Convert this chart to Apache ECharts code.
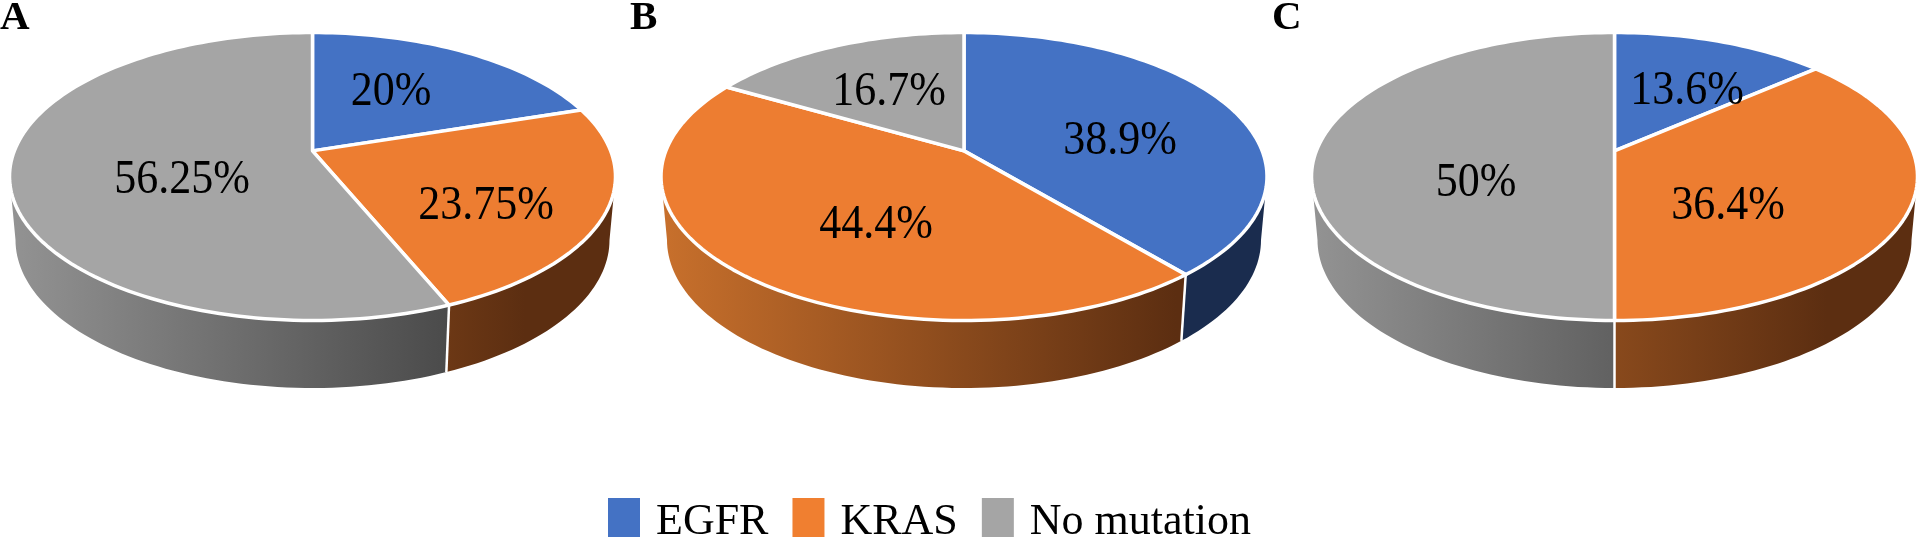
<!DOCTYPE html>
<html>
<head>
<meta charset="utf-8">
<title>EGFR / KRAS</title>
<script src="https://cdn.jsdelivr.net/npm/echarts@6/dist/echarts.min.js"></script>
<style>
html, body { margin: 0; padding: 0; background: #fff; }
#main { width: 1920px; height: 538px; }
</style>
</head>
<body>
<div id="main"></div>
<script>
// 数据，每个数组对应 A B C 三张饼图
var panels = ['A', 'B', 'C']
var categories = ['EGFR', 'KRAS', 'No mutation']
var egfrValues = [20, 38.9, 13.6]
var krasValues = [23.75, 44.4, 36.4]
var noneValues = [56.25, 16.7, 50]
var seriesValues = [egfrValues, krasValues, noneValues]

// 颜色
var topColors = ['#4472C4', '#ED7D31', '#A5A5A5']
var wallLight = ['#3C64AC', '#C8702C', '#939393']
var wallDark = ['#1A2C4E', '#5C2E11', '#3E3E3E']
var legendColors = ['#4472C4', '#F07F30', '#A5A5A5']

// 布局，像素
var font = 'Liberation Serif'
var panelX = [312.5, 964, 1614.5]
var topFace = {cy: 176.5, a: 303, b: 144}
var bottomFace = {cy: 240, a: 297, b: 148}
// 透视造成圆心偏移
var tilt = 0.178
var letterX = [0, 630, 1272]
var labelPos = [
    [[391, 93], [486, 207], [182, 181]],
    [[1120, 142], [876, 226], [889, 93]],
    [[1687, 92], [1728, 207], [1476, 184]],
]

// 圆上角度（顶部起顺时针）投影到椭圆
var project = function(cx, face, deg) {
    var r = deg * Math.PI / 180
    var x = Math.sin(r)
    var y = -Math.cos(r)
    var k = 1 - tilt * y
    return [
        cx + face.a * x * Math.sqrt(1 - tilt * tilt) / k,
        face.cy + face.b * (y - tilt) / k,
    ]
}

var arcPoints = function(cx, face, from, to) {
    var n = Math.max(2, Math.ceil((to - from) / 1.5))
    var points = []
    for (var i = 0; i <= n; i++) {
        points.push(project(cx, face, from + (to - from) * i / n))
    }
    return points
}

// 侧面只画前半圈，椭圆最宽处为界
var frontFrom = 90 + Math.asin(tilt) * 180 / Math.PI
var frontTo = 360 - frontFrom

var renderSlice = function(params, api) {
    var s = params.seriesIndex
    var p = params.dataIndex
    var value = api.value(0)
    var start = 0
    for (var i = 0; i < s; i++) {
        start += seriesValues[i][p]
    }
    var from = start * 3.6
    var to = (start + value) * 3.6
    var cx = panelX[p]

    var rimTop = arcPoints(cx, topFace, from, to)
    var apex = [cx, topFace.cy - tilt * topFace.b]
    var children = []

    var wallFrom = Math.max(from, frontFrom)
    var wallTo = Math.min(to, frontTo)
    if (wallFrom < wallTo) {
        var left = cx - topFace.a
        var width = topFace.a * 2
        var fill = new echarts.graphic.LinearGradient(left, 0, left + width, 0, [
            {offset: 0, color: wallLight[s]},
            {offset: 0.85, color: wallDark[s]},
            {offset: 1, color: wallDark[s]},
        ], true)
        var wallTop = arcPoints(cx, topFace, wallFrom, wallTo)
        var wallBottom = arcPoints(cx, bottomFace, wallFrom, wallTo).reverse()
        children.push({
            type: 'polygon',
            z2: 1,
            shape: {points: wallTop.concat(wallBottom)},
            style: {fill: fill},
        })
        if (from > frontFrom) {
            // 侧面之间的白线
            var d0 = project(cx, topFace, from)
            var d1 = project(cx, bottomFace, from)
            children.push({
                type: 'line',
                z2: 5,
                shape: {x1: d0[0], y1: d0[1], x2: d1[0], y2: d1[1]},
                style: {stroke: '#fff', lineWidth: 2.5},
            })
        }
    }

    children.push({
        type: 'polygon',
        z2: 10,
        shape: {points: [apex].concat(rimTop)},
        style: {fill: topColors[s], stroke: '#fff', lineWidth: 3.5, lineJoin: 'round'},
    })
    children.push({
        type: 'text',
        z2: 20,
        x: labelPos[p][s][0],
        y: labelPos[p][s][1],
        scaleY: 1.08,
        style: {
            text: value + '%',
            align: 'center',
            verticalAlign: 'middle',
            fill: '#000',
            font: '44px "' + font + '"',
        },
    })

    return {type: 'group', children: children}
}

var series = []
for (var i = 0; i < categories.length; i++) {
    series.push({
        type: 'custom',
        name: categories[i],
        coordinateSystem: 'none',
        renderItem: renderSlice,
        itemStyle: {color: legendColors[i]},
        data: seriesValues[i].map(function(v) { return [v] }),
        silent: true,
    })
}

var titles = []
for (var i = 0; i < panels.length; i++) {
    titles.push({
        text: panels[i],
        left: letterX[i],
        top: -2,
        padding: 0,
        textStyle: {fontFamily: font, fontWeight: 'bold', fontSize: 41, color: '#000'},
    })
}

var myChart = echarts.init(document.getElementById('main'), null, {renderer: 'canvas'})
var option = {
    animation: false,
    backgroundColor: '#fff',
    title: titles,
    legend: {
        data: categories,
        left: 608,
        top: 498,
        padding: 0,
        icon: 'rect',
        itemWidth: 32,
        itemHeight: 39,
        itemGap: 24,
        selectedMode: false,
        formatter: function(name) {
            return '{t|' + name + '}'
        },
        textStyle: {
            rich: {
                t: {
                    fontFamily: font,
                    fontSize: 44,
                    color: '#000',
                    padding: [10, 0, 0, 11],
                },
            },
        },
    },
    series: series,
}
myChart.setOption(option)
</script>
</body>
</html>
